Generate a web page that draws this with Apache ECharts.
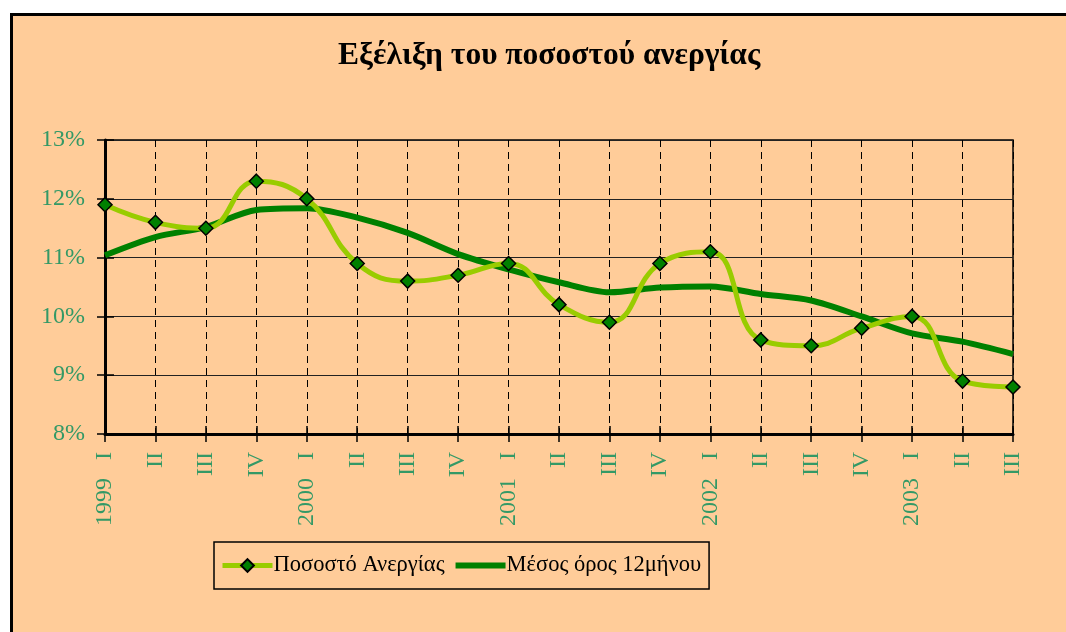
<!DOCTYPE html>
<html>
<head>
<meta charset="utf-8">
<script src="https://cdn.jsdelivr.net/npm/echarts@6/dist/echarts.min.js"></script>
<style>
  html, body { margin: 0; padding: 0; background: #ffffff; overflow: hidden; }
  #frame { position: absolute; left: 10px; top: 13px; width: 1100px; height: 700px; background: #FFCC99; border: 3px solid #000; box-sizing: border-box; }
  #chart { position: absolute; left: 0; top: 0; width: 1066px; height: 632px; }
</style>
</head>
<body>
<div id="frame"></div>
<div id="chart"></div>
<script>
var quarters = ['I','II','III','IV','I','II','III','IV','I','II','III','IV','I','II','III','IV','I','II','III'];
var years    = ['1999','','','','2000','','','','2001','','','','2002','','','','2003','',''];
var unemploymentRate = [11.9, 11.6, 11.5, 12.3, 12.0, 10.9, 10.6, 10.7, 10.9, 10.2, 9.9, 10.9, 11.1, 9.6, 9.5, 9.8, 10.0, 8.9, 8.8];
var movingAverage12m = [11.04, 11.35, 11.52, 11.81, 11.84, 11.68, 11.42, 11.06, 10.8, 10.58, 10.41, 10.49, 10.51, 10.38, 10.27, 10.0, 9.71, 9.57, 9.36];
var yTicks = { min: 8, max: 13, interval: 1 };

var categories = quarters.map(function (q, i) { return i; });
var font = '"Liberation Serif", "DejaVu Serif", serif';
var labelColor = '#339966';

var chart = echarts.init(document.getElementById('chart'), null, { renderer: 'canvas' });
chart.setOption({
  backgroundColor: 'transparent',
  animation: false,
  title: {
    text: 'Εξέλιξη του ποσοστού ανεργίας',
    left: 333, top: 35,
    textStyle: { fontFamily: font, fontSize: 31.5, fontWeight: 'bold', color: '#000' }
  },
  grid: {
    left: 105, right: 53, top: 140, bottom: 198,
    show: true, borderColor: '#000', borderWidth: 1.5, backgroundColor: 'transparent'
  },
  legend: {
    left: 214, top: 542,
    padding: [12, 8, 12, 6],
    itemGap: 8,
    itemWidth: 50, itemHeight: 16,
    borderColor: '#000', borderWidth: 1.5,
    backgroundColor: 'transparent',
    lineStyle: { width: 'inherit' },
    textStyle: { fontFamily: font, fontSize: 22.5, color: '#000', padding: [0, 0, 0, -4] },
    data: ['Ποσοστό Ανεργίας', 'Μέσος όρος 12μήνου']
  },
  xAxis: [{
    type: 'category',
    data: categories,
    boundaryGap: false,
    axisLine: { lineStyle: { color: '#000', width: 3 } },
    axisTick: { show: true, interval: 0, length: 8, lineStyle: { color: '#000', width: 1.5 } },
    axisLabel: {
      interval: 0, rotate: 90, margin: 18,
      fontFamily: font, fontSize: 24, color: labelColor,
      formatter: function (v, i) { return quarters[i]; }
    },
    splitLine: { show: true, interval: 0, lineStyle: { color: '#000', width: 1, type: [7, 5] } }
  }, {
    type: 'category',
    position: 'bottom',
    data: categories,
    boundaryGap: false,
    axisLine: { show: false },
    axisTick: { show: true, inside: true, interval: 0, length: 8, lineStyle: { color: '#000', width: 1.5 } },
    axisLabel: {
      interval: 0, rotate: 90, margin: 44,
      fontFamily: font, fontSize: 24, color: labelColor,
      formatter: function (v, i) { return years[i]; }
    },
    splitLine: { show: false }
  }],
  yAxis: [{
    type: 'value',
    min: yTicks.min, max: yTicks.max, interval: yTicks.interval,
    axisLine: { show: true, lineStyle: { color: '#000', width: 3 } },
    axisTick: { show: true, length: 8, lineStyle: { color: '#000', width: 1.5 } },
    axisLabel: { margin: 20, fontFamily: font, fontSize: 24, color: labelColor, formatter: '{value}%' },
    splitLine: { show: true, lineStyle: { color: '#222', width: 1.2 } }
  }, {
    type: 'value',
    position: 'left',
    min: yTicks.min, max: yTicks.max, interval: yTicks.interval,
    axisLine: { show: false },
    axisTick: { show: true, inside: true, length: 9, lineStyle: { color: '#000', width: 1.5 } },
    axisLabel: { show: false },
    splitLine: { show: false }
  }],
  series: [{
    name: 'Ποσοστό Ανεργίας',
    type: 'line',
    xAxisIndex: 0, yAxisIndex: 0,
    data: unemploymentRate,
    smooth: 0.45,
    symbol: 'diamond', symbolSize: 14,
    lineStyle: { color: '#99CC00', width: 5 },
    itemStyle: { color: '#008000', borderColor: '#000', borderWidth: 1.5 },
    z: 3
  }, {
    name: 'Μέσος όρος 12μήνου',
    type: 'line',
    xAxisIndex: 0, yAxisIndex: 0,
    data: movingAverage12m,
    smooth: 0.3,
    symbol: 'none',
    lineStyle: { color: '#008000', width: 6 },
    itemStyle: { color: 'rgba(0,0,0,0)', borderWidth: 0 },
    z: 2
  }]
});
</script>
</body>
</html>
